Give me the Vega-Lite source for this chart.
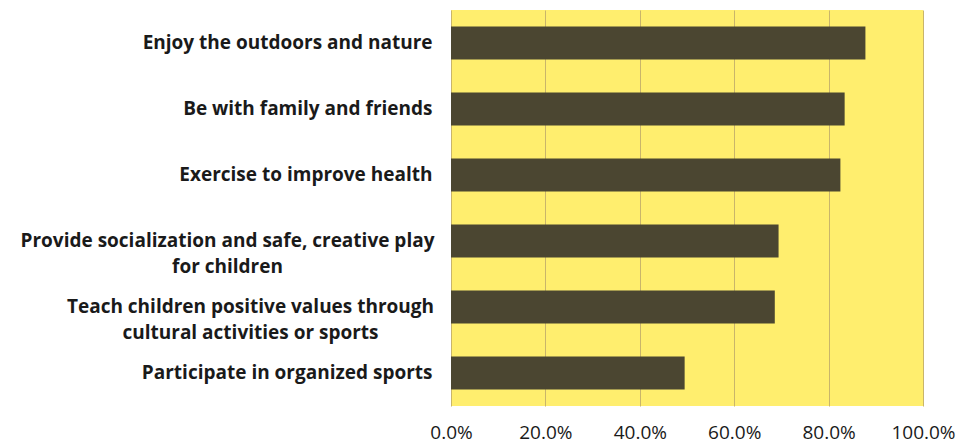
{
  "$schema": "https://vega.github.io/schema/vega-lite/v6.json",
  "width": 472,
  "height": 396,
  "autosize": "none",
  "padding": {"left": 451, "top": 10, "right": 45, "bottom": 39},
  "background": "white",
  "config": {
    "view": {"fill": "#FFEE6E", "stroke": null},
    "font": "Open Sans"
  },
  "data": {
    "values": [
      {"reason": "Enjoy the outdoors and nature", "pct": 0.878},
      {"reason": "Be with family and friends", "pct": 0.834},
      {"reason": "Exercise to improve health", "pct": 0.825},
      {"reason": "Provide socialization and safe, creative play|for children", "pct": 0.694},
      {"reason": "Teach children positive values through|cultural activities or sports", "pct": 0.686},
      {"reason": "Participate in organized sports", "pct": 0.495}
    ]
  },
  "mark": {"type": "bar", "color": "#4B4631"},
  "encoding": {
    "y": {
      "field": "reason",
      "type": "nominal",
      "sort": null,
      "scale": {"paddingInner": 0.5, "paddingOuter": 0.25},
      "axis": {
        "title": null,
        "domain": false,
        "ticks": false,
        "labelExpr": "split(datum.value, '|')",
        "labelFont": "Open Sans",
        "labelFontWeight": "bold",
        "labelFontSize": 19,
        "labelColor": "#1a1a1a",
        "labelAlign": {"condition": {"test": "indexof(datum.value, '|') >= 0", "value": "center"}, "value": "right"},
        "labelPadding": {"condition": [
          {"test": "indexof(datum.value, 'Provide') == 0", "value": 224},
          {"test": "indexof(datum.value, 'Teach') == 0", "value": 201}
        ], "value": 19},
        "labelLineHeight": 26,
        "labelLimit": 460
      }
    },
    "x": {
      "field": "pct",
      "type": "quantitative",
      "scale": {"domain": [0, 1]},
      "axis": {
        "title": null,
        "format": ".1%",
        "values": [0, 0.2, 0.4, 0.6, 0.8, 1.0],
        "domain": false,
        "ticks": false,
        "grid": true,
        "gridColor": "#C9B56A",
        "gridWidth": 1,
        "labelFont": "Open Sans",
        "labelFontSize": 19,
        "labelColor": "#1a1a1a",
        "labelPadding": 17,
        "labelFlush": false
      }
    }
  }
}
